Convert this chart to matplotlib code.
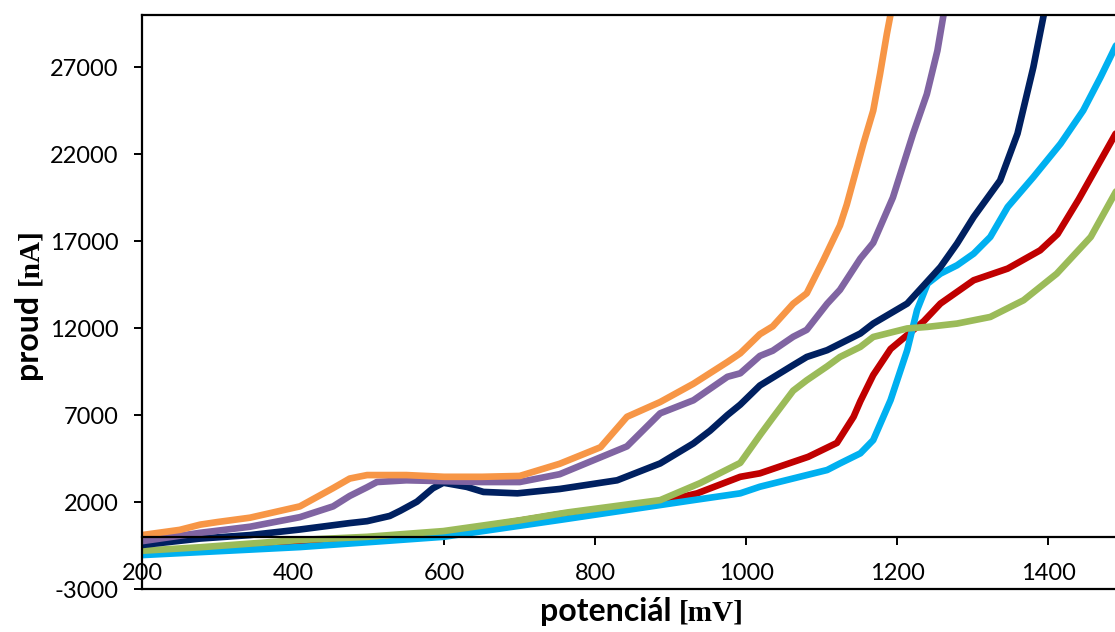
import matplotlib
matplotlib.use("Agg")
import matplotlib.pyplot as plt

# potential [mV] / current [nA] for each measured curve
red_x = [200, 409, 599, 753, 886, 935, 992, 1018, 1082, 1120, 1142, 1151, 1168, 1191,
         1213, 1235, 1257, 1301, 1346, 1389, 1412, 1440, 1489]
red_y = [-900, -370, 220, 1300, 2000, 2500, 3450, 3650, 4600, 5400, 6900, 7800, 9300, 10800,
         11600, 12400, 13410, 14750, 15420, 16470, 17400, 19400, 23180]

blue_x = [200, 409, 599, 753, 930, 992, 1018, 1107, 1124, 1151, 1168, 1191, 1213, 1226,
          1240, 1257, 1279, 1301, 1323, 1346, 1380, 1416, 1446, 1469, 1490]
blue_y = [-1050, -590, 0, 970, 2110, 2500, 2880, 3840, 4220, 4800, 5560, 7860, 10730, 13030,
          14560, 15130, 15610, 16280, 17240, 18960, 20680, 22600, 24510, 26430, 28300]

green_x = [200, 277, 409, 498, 599, 700, 763, 886, 939, 992, 1019, 1036, 1062, 1080, 1107,
           1124, 1151, 1168, 1213, 1240, 1279, 1323, 1367, 1411, 1456, 1490]
green_y = [-800, -600, -180, 0, 330, 950, 1400, 2110, 3090, 4250, 5900, 6900, 8400, 9000, 9800,
           10340, 10920, 11490, 11980, 12070, 12260, 12640, 13600, 15130, 17240, 19900]

navy_x = [200, 277, 343, 409, 475, 498, 528, 542, 564, 585, 599, 630, 652, 697, 753, 829,
          886, 930, 952, 975, 992, 1018, 1062, 1080, 1107, 1151, 1168, 1213, 1257, 1279,
          1301, 1336, 1359, 1380, 1396]
navy_y = [-470, -100, 100, 420, 790, 900, 1200, 1500, 2020, 2790, 3110, 2870, 2580, 2500, 2750, 3250,
          4220, 5370, 6100, 7000, 7600, 8700, 9870, 10340, 10730, 11690, 12260, 13410, 15510, 16860,
          18390, 20490, 23180, 27000, 30500]

purple_x = [200, 277, 343, 409, 453, 475, 498, 511, 550, 600, 650, 700, 753, 842, 886, 930,
            975, 992, 1018, 1035, 1062, 1080, 1107, 1124, 1151, 1168, 1194, 1221, 1239, 1253, 1263]
purple_y = [-250, 230, 580, 1130, 1750, 2350, 2850, 3150, 3250, 3200, 3150, 3150, 3600, 5200, 7100, 7850,
            9200, 9400, 10400, 10700, 11500, 11900, 13400, 14200, 16000, 16900, 19500, 23200, 25450, 27950, 30500]

orange_x = [200, 250, 277, 300, 343, 409, 453, 475, 498, 550, 600, 650, 700, 753, 807, 842,
            886, 930, 975, 992, 1018, 1035, 1062, 1080, 1102, 1124, 1133, 1155, 1168, 1177, 1186, 1193]
orange_y = [100, 400, 700, 850, 1100, 1750, 2800, 3350, 3550, 3550, 3450, 3450, 3500, 4200, 5150, 6900,
            7750, 8800, 10050, 10550, 11650, 12100, 13400, 14000, 15900, 17900, 19100, 22600, 24500, 26600, 28900, 30500]

series = [
    (red_x, red_y, '#C00000'),
    (blue_x, blue_y, '#00B0F0'),
    (green_x, green_y, '#9BBB59'),
    (navy_x, navy_y, '#002060'),
    (purple_x, purple_y, '#8064A2'),
    (orange_x, orange_y, '#F79646'),
]

x_ticks = [200, 400, 600, 800, 1000, 1200, 1400]
y_ticks = [-3000, 2000, 7000, 12000, 17000, 22000, 27000]

W, H = 1115, 632
fig = plt.figure(figsize=(W / 100, H / 100), dpi=100)
ax = fig.add_axes([142 / W, 1 - 589 / H, (1124 - 142) / W, (589 - 15) / H])

for xs, ys, c in series:
    ax.plot(xs, ys, color=c, lw=4.8, solid_joinstyle='round', solid_capstyle='round')

# horizontal axis crosses at zero, plot area keeps a frame at the bottom
ax.spines['bottom'].set_position(('data', 0))
ax.spines['right'].set_visible(False)
for s in ('bottom', 'left', 'top'):
    ax.spines[s].set_linewidth(1.6)
ax.plot([0, 1], [0, 0], transform=ax.transAxes, color='black', lw=1.6, clip_on=False)

ax.set_xlim(200, 1500)
ax.set_ylim(-3000, 30000)
ax.set_xticks(x_ticks)
ax.set_yticks(y_ticks)

tick_font = dict(family='Lato', size=17)
ax.set_xticklabels([str(v) for v in x_ticks], **tick_font)
ax.set_yticklabels([str(v) for v in y_ticks], **tick_font)

ax.tick_params(axis='x', direction='out', length=6, width=1.4, pad=13)
ax.tick_params(axis='y', direction='out', length=6, width=1.4, pad=11)

# axis titles: sans word + serif unit
lab_sans = dict(family='Lato', weight='bold', size=23)
lab_serif = dict(family='Liberation Serif', weight='bold', size=21)
fig.text(672 / W, 1 - 621 / H, 'potenciál', ha='right', va='baseline', **lab_sans)
fig.text(679 / W, 1 - 621 / H, '[mV]', ha='left', va='baseline', **lab_serif)
fig.text(37 / W, 1 - 379 / H, 'proud', rotation=90, rotation_mode='anchor',
         ha='left', va='baseline', **lab_sans)
fig.text(37 / W, 1 - 285 / H, '[nA]', rotation=90, rotation_mode='anchor',
         ha='left', va='baseline', **lab_serif)

fig.savefig('out.png', dpi=100)
